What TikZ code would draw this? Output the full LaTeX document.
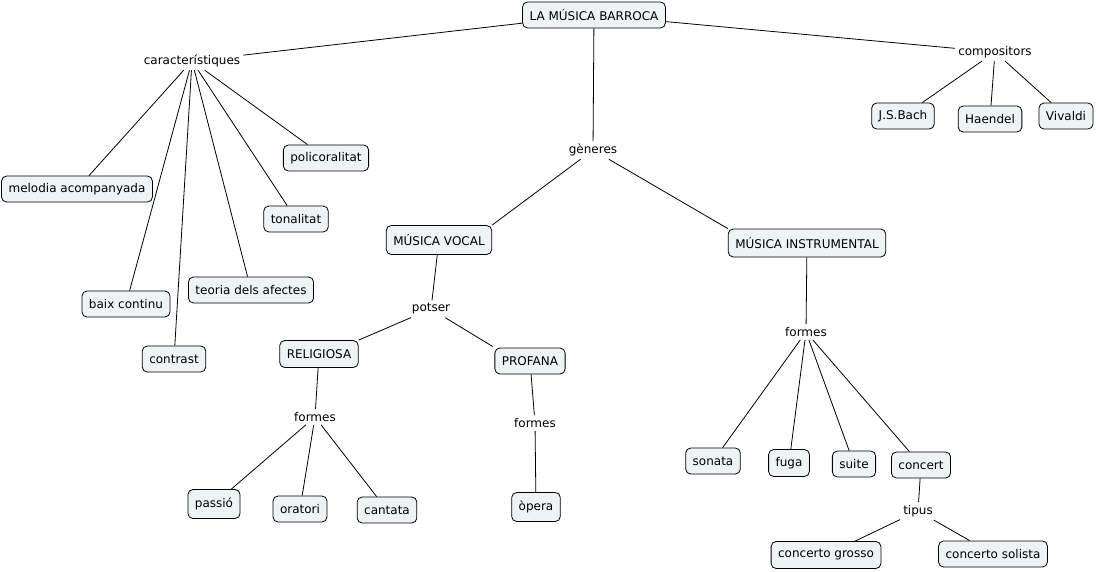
\documentclass[tikz,border=0pt]{standalone}
\usepackage{fontspec}
\setmainfont{DejaVu Sans}
\begin{document}
\begin{tikzpicture}[x=1pt,y=-1pt,
  concept/.style={draw=black, line width=0.8pt, rounded corners=5pt, fill=boxfill,
    inner xsep=7pt, inner ysep=0pt, minimum height=26pt, font=\fontsize{12}{14}\selectfont},
  linkph/.style={inner sep=3pt, font=\fontsize{12}{14}\selectfont},
  conn/.style={draw=black, line width=0.8pt}]
\definecolor{boxfill}{HTML}{EEF4F6}
\useasboundingbox (0,0) rectangle (1096,571);
% concepts
\node[concept] (root) at (594,15) {LA MÚSICA BARROCA};
\node[linkph] (car) at (192,61) {característiques};
\node[linkph] (comp) at (995,52) {compositors};
\node[linkph] (gen) at (593,150) {gèneres};
\node[concept] (bach) at (903,116) {J.S.Bach};
\node[concept] (haendel) at (990,119) {Haendel};
\node[concept] (vivaldi) at (1066,116) {Vivaldi};
\node[concept] (poli) at (326,158) {policoralitat};
\node[concept] (melodia) at (77,189) {melodia acompanyada};
\node[concept] (tonal) at (296,219) {tonalitat};
\node[concept] (teoria) at (251,290) {teoria dels afectes};
\node[concept] (baix) at (126,304) {baix continu};
\node[concept] (contrast) at (174,359) {contrast};
\node[concept, minimum height=29pt] (vocal) at (439,240) {MÚSICA VOCAL};
\node[concept, minimum height=28pt] (instr) at (807,243) {MÚSICA INSTRUMENTAL};
\node[linkph] (potser) at (431,309) {potser};
\node[concept, minimum height=27pt] (relig) at (319,354) {RELIGIOSA};
\node[concept] (prof) at (530,361) {PROFANA};
\node[linkph] (formesR) at (315,417) {formes};
\node[linkph] (formesP) at (535,423) {formes};
\node[concept, minimum height=29pt] (passio) at (214,504) {passió};
\node[concept] (oratori) at (300,509) {oratori};
\node[concept] (cantata) at (387,510) {cantata};
\node[concept, minimum height=29pt] (opera) at (536,507) {òpera};
\node[linkph] (formesI) at (806,332) {formes};
\node[concept] (sonata) at (713,461) {sonata};
\node[concept, minimum height=27pt] (fuga) at (789,463) {fuga};
\node[concept] (suite) at (854,464) {suite};
\node[concept] (concert) at (921,465) {concert};
\node[linkph] (tipus) at (918,511) {tipus};
\node[concept, minimum height=27pt] (grosso) at (826,555) {concerto grosso};
\node[concept] (solista) at (993,554) {concerto solista};
% connectors
\draw[conn] (root) -- (car);
\draw[conn] (root) -- (gen);
\draw[conn] (root) -- (comp);
\foreach \t in {melodia,baix,contrast,teoria,tonal,poli} \draw[conn] (car) -- (\t);
\foreach \t in {bach,haendel,vivaldi} \draw[conn] (comp) -- (\t);
\draw[conn] (gen) -- (vocal.north east);
\draw[conn] (gen) -- (instr.north west);
\draw[conn] (vocal) -- (potser);
\draw[conn] (potser) -- (relig.north east);
\draw[conn, shorten >=2pt] (potser) -- (prof.north west);
\draw[conn] (relig) -- (formesR);
\foreach \t in {passio,oratori,cantata} \draw[conn] (formesR) -- (\t);
\draw[conn] (prof) -- (formesP);
\draw[conn] (formesP) -- (opera);
\draw[conn] (instr) -- (formesI);
\foreach \t in {sonata,fuga,suite,concert} \draw[conn] (formesI) -- (\t);
\draw[conn] (concert) -- (tipus);
\draw[conn] (tipus) -- (grosso);
\draw[conn] (tipus) -- (solista);
\end{tikzpicture}
\end{document}
